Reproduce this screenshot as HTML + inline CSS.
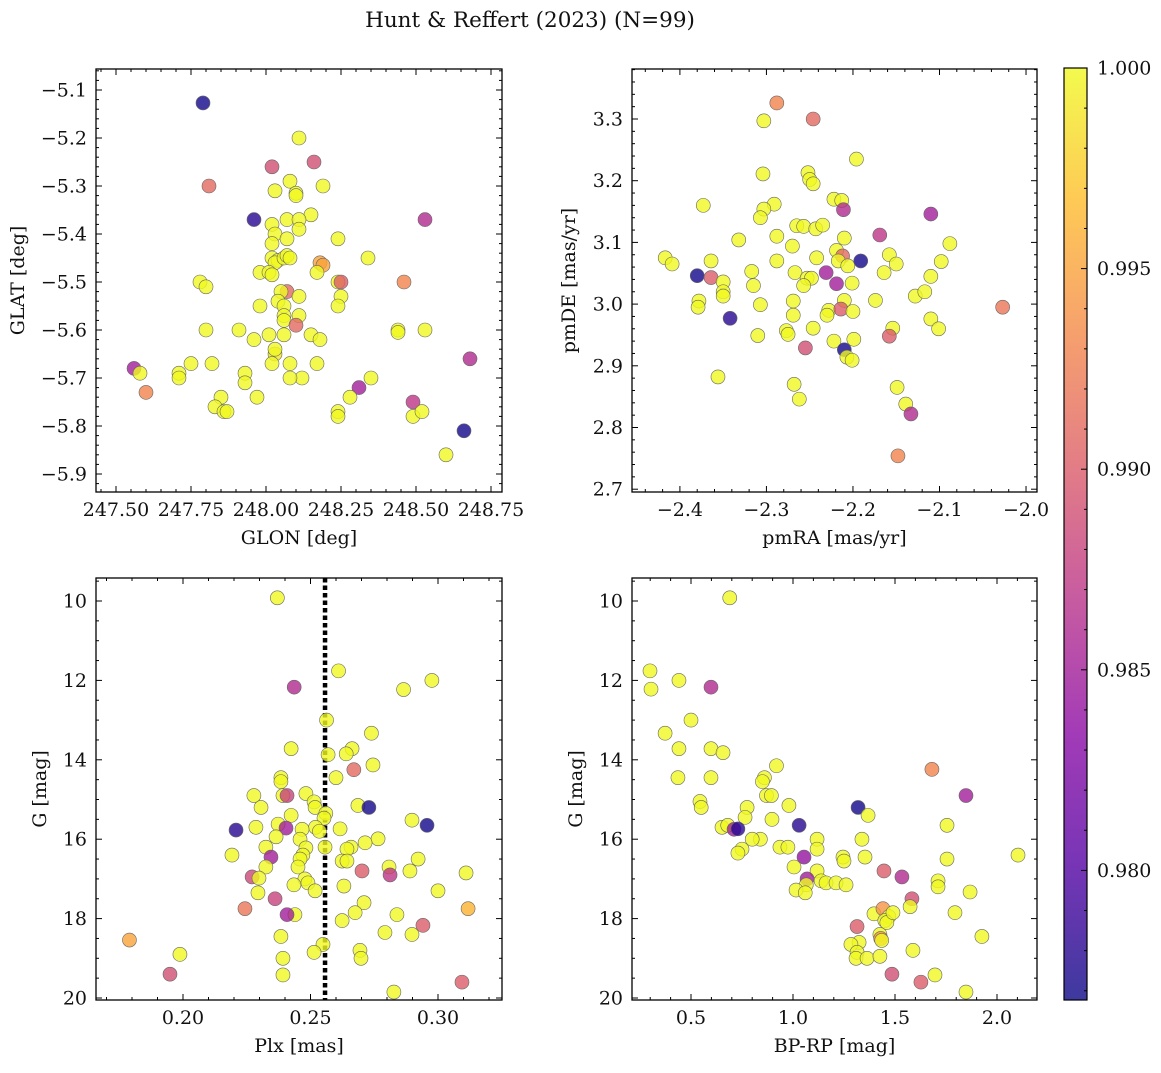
<!DOCTYPE html>
<html><head><meta charset="utf-8">
<style>
body{margin:0;background:#fff;}
svg text{font-family:"DejaVu Serif","Liberation Serif",serif;fill:#111;}
</style></head>
<body>
<svg id="fig" width="1161" height="1068" viewBox="0 0 1161 1068" xmlns="http://www.w3.org/2000/svg">
<text x="530" y="27" font-size="21.5" text-anchor="middle">Hunt &amp; Reffert (2023) (N=99)</text>
</svg>
<script>
// Panel 1: GLON / GLAT / prob
const p1Lon=[247.79,247.81,248.02,248.16,248.11,247.96,248.08,248.03,248.10,248.10,248.19,248.15,248.07,248.11,248.11,248.02,248.03,248.02,248.07,248.24,248.53,248.02,248.04,248.03,248.06,248.07,248.08,247.98,248.01,248.02,248.18,248.19,248.17,248.34,248.24,248.25,248.46,247.78,247.80,248.07,248.05,248.04,248.11,248.06,248.25,247.98,248.24,248.11,248.06,248.06,248.06,247.80,247.91,248.10,247.96,248.01,248.15,248.18,248.44,248.44,248.53,248.03,248.03,248.02,248.08,248.17,247.82,247.75,248.68,247.56,247.58,247.71,247.71,247.93,247.93,248.12,248.08,248.35,248.31,247.60,247.85,247.83,247.86,247.87,247.97,248.28,248.24,248.24,248.49,248.49,248.52,248.66,248.60];
const p1Lat=[-5.127,-5.30,-5.26,-5.25,-5.20,-5.37,-5.29,-5.31,-5.315,-5.32,-5.30,-5.36,-5.37,-5.37,-5.39,-5.38,-5.40,-5.42,-5.41,-5.41,-5.37,-5.45,-5.455,-5.46,-5.45,-5.445,-5.45,-5.48,-5.48,-5.485,-5.46,-5.465,-5.48,-5.45,-5.50,-5.50,-5.50,-5.50,-5.51,-5.52,-5.52,-5.54,-5.53,-5.55,-5.53,-5.55,-5.55,-5.57,-5.57,-5.58,-5.61,-5.60,-5.60,-5.59,-5.62,-5.61,-5.61,-5.62,-5.60,-5.605,-5.60,-5.65,-5.64,-5.67,-5.67,-5.67,-5.67,-5.67,-5.66,-5.68,-5.69,-5.69,-5.70,-5.69,-5.71,-5.70,-5.70,-5.70,-5.72,-5.73,-5.74,-5.76,-5.77,-5.77,-5.74,-5.74,-5.77,-5.78,-5.75,-5.78,-5.77,-5.81,-5.86];
const p1Prob=[0.977,0.991,0.989,0.989,1,0.978,1,1,1,1,1,1,1,1,1,1,1,1,1,1,0.986,1,1,1,1,1,1,1,1,1,0.995,0.995,1,1,1,0.99,0.993,1,1,0.991,1,1,1,1,1,1,1,1,1,1,1,1,1,0.991,1,1,1,1,1,1,1,0.999,1,1,1,1,1,1,0.986,0.985,1,1,1,1,1,1,1,1,0.985,0.993,1,1,1,1,1,1,1,1,0.987,1,1,0.977,1];
// Panel 2: pmRA / pmDE
const p2RA=[-2.288,-2.246,-2.303,-2.196,-2.304,-2.252,-2.250,-2.246,-2.373,-2.291,-2.303,-2.307,-2.222,-2.213,-2.211,-2.169,-2.110,-2.332,-2.288,-2.265,-2.257,-2.243,-2.235,-2.270,-2.210,-2.417,-2.409,-2.364,-2.288,-2.242,-2.219,-2.212,-2.217,-2.206,-2.191,-2.158,-2.150,-2.231,-2.380,-2.364,-2.317,-2.267,-2.253,-2.248,-2.164,-2.110,-2.098,-2.088,-2.219,-2.257,-2.201,-2.350,-2.315,-2.350,-2.350,-2.128,-2.117,-2.269,-2.210,-2.174,-2.378,-2.379,-2.307,-2.027,-2.342,-2.269,-2.228,-2.230,-2.214,-2.200,-2.110,-2.101,-2.154,-2.277,-2.275,-2.246,-2.310,-2.222,-2.199,-2.158,-2.255,-2.210,-2.207,-2.201,-2.356,-2.149,-2.268,-2.262,-2.139,-2.133,-2.148];
const p2DE=[3.326,3.300,3.297,3.235,3.211,3.213,3.202,3.195,3.160,3.162,3.154,3.140,3.170,3.168,3.153,3.112,3.146,3.104,3.110,3.127,3.126,3.122,3.128,3.094,3.107,3.075,3.065,3.070,3.070,3.075,3.087,3.078,3.070,3.062,3.070,3.080,3.065,3.051,3.046,3.043,3.053,3.051,3.042,3.042,3.051,3.045,3.069,3.098,3.033,3.030,3.034,3.036,3.030,3.020,3.013,3.013,3.020,3.005,3.006,3.006,3.005,2.995,2.999,2.995,2.977,2.982,2.990,2.982,2.992,2.988,2.976,2.960,2.961,2.957,2.951,2.961,2.949,2.940,2.943,2.948,2.929,2.926,2.914,2.909,2.882,2.865,2.870,2.846,2.838,2.822,2.754];
const p2Prob=[0.993,0.991,1,1,1,1,1,1,1,1,1,1,1,1,0.986,0.987,0.985,1,1,1,1,1,1,1,1,1,1,1,1,1,1,0.991,1,1,0.977,1,1,0.985,0.977,0.99,1,1,1,1,1,1,1,1,0.985,1,1,1,1,1,1,1,1,1,1,1,1,1,1,0.992,0.978,1,1,1,0.99,1,1,1,1,1,1,1,1,1,1,0.99,0.989,0.977,1,1,1,1,1,1,1,0.986,0.993];
// Panel 3 / 4: Plx, BP-RP, G
const p3Plx=[0.237,0.261,0.2436,0.2976,0.2865,0.2563,0.2739,0.2424,0.2663,0.264,0.2569,0.2745,0.2384,0.2384,0.26,0.267,0.2392,0.2482,0.2278,0.2408,0.2306,0.2514,0.2518,0.2686,0.2729,0.2424,0.256,0.2553,0.2898,0.2286,0.2373,0.2404,0.2208,0.252,0.2535,0.2616,0.2467,0.2459,0.2957,0.2365,0.2765,0.2714,0.2659,0.2325,0.2482,0.247,0.2557,0.2643,0.2922,0.2192,0.2345,0.2459,0.2624,0.2643,0.2451,0.2325,0.2808,0.289,0.2702,0.2812,0.2271,0.2298,0.2478,0.249,0.2435,0.2631,0.2294,0.2518,0.300,0.2361,0.271,0.2243,0.3118,0.2675,0.2439,0.2408,0.2839,0.2624,0.2792,0.2384,0.2898,0.2941,0.2549,0.2694,0.2514,0.2698,0.2392,0.179,0.1988,0.1949,0.2392,0.2827,0.3094,0.311];
const p3G=[9.92,11.76,12.17,12.0,12.23,13.0,13.33,13.72,13.72,13.85,13.87,14.13,14.45,14.55,14.45,14.25,14.9,14.85,14.9,14.9,15.2,15.06,15.2,15.15,15.2,15.4,15.35,15.47,15.52,15.7,15.62,15.72,15.77,15.7,15.8,15.74,15.75,16.0,15.65,15.94,15.99,16.09,16.2,16.2,16.22,16.4,16.2,16.25,16.5,16.4,16.45,16.5,16.55,16.55,16.7,16.7,16.7,16.8,16.8,16.9,16.95,16.98,17.0,17.1,17.15,17.18,17.35,17.3,17.3,17.5,17.6,17.75,17.75,17.85,17.9,17.9,17.9,18.05,18.35,18.45,18.4,18.17,18.65,18.8,18.85,19.0,19.0,18.54,18.9,19.4,19.42,19.85,19.6,16.85];
const p3Prob=[1,1,0.986,1,1,1,1,1,1,1,1,1,1,1,1,0.991,1,1,1,0.988,1,1,1,1,0.977,1,1,1,1,1,1,0.985,0.978,1,1,1,1,1,0.977,1,1,1,1,1,1,1,1,1,1,1,0.985,1,1,1,1,1,1,1,0.99,0.987,0.9885,1,1,1,1,1,1,1,1,0.988,1,0.992,0.996,1,1,0.985,1,1,1,1,1,0.99,1,1,1,1,1,0.995,1,0.989,1,1,0.99,1];
const p4Col=[0.690,0.299,0.304,0.441,0.598,0.5,0.373,0.441,0.598,0.657,0.436,0.598,0.919,0.86,0.85,1.681,1.848,0.544,0.55,0.87,0.894,0.98,0.775,1.319,0.765,1.368,0.897,0.652,0.68,0.711,0.73,1.03,1.755,0.84,0.80,0.75,0.73,1.054,1.118,1.118,0.936,0.975,1.338,1.245,1.25,1.353,2.103,1.755,1.005,1.118,1.069,1.065,1.138,1.162,1.446,1.534,1.711,1.711,1.211,1.26,1.015,1.06,1.868,1.583,1.574,1.794,1.397,1.441,1.47,1.45,1.46,1.49,1.314,1.426,1.43,1.435,1.324,1.284,1.926,1.588,1.314,1.309,1.363,1.426,1.485,1.696,1.627,1.848];
const p4G=[9.92,11.76,12.22,12.0,12.17,13.0,13.33,13.72,13.72,13.82,14.45,14.45,14.15,14.45,14.55,14.24,14.9,15.05,15.2,14.9,14.9,15.15,15.2,15.2,15.45,15.4,15.5,15.7,15.65,15.75,15.74,15.65,15.65,16.0,16.0,16.25,16.35,16.45,16.0,16.25,16.2,16.2,16.0,16.45,16.55,16.45,16.4,16.5,16.7,16.8,17.0,17.15,17.05,17.1,16.8,16.95,17.05,17.2,17.1,17.15,17.28,17.35,17.33,17.5,17.7,17.85,17.88,17.75,17.95,18.05,18.1,17.85,18.2,18.4,18.5,18.55,18.6,18.65,18.45,18.8,18.85,19.0,19.0,18.95,19.4,19.42,19.6,19.85];
const p4Prob=[1,1,1,1,0.986,1,1,1,1,1,1,1,1,1,1,0.993,0.985,1,1,1,1,1,1,0.977,1,1,1,1,1,0.985,0.978,0.978,1,1,1,1,1,0.984,1,1,1,1,1,1,1,1,1,1,1,1,0.985,1,1,1,0.99,0.986,1,1,1,1,1,1,1,0.989,1,1,1,0.994,1,1,1,1,0.99,1,0.994,1,1,1,1,1,1,1,1,1,0.989,1,0.99,1];
const vLineX=[0.2557];
const cbTicks=[0.980,0.985,0.990,0.995,1.000];

const VMIN=0.97677,VMAX=1.0;
const plasma=[[13,8,135],[84,2,163],[139,10,165],[185,50,137],[219,92,104],[244,136,73],[254,188,43],[240,249,33]];
function cmap(v){let t=Math.max(0,Math.min(1,(v-VMIN)/(VMAX-VMIN)))*(plasma.length-1);let i=Math.min(Math.floor(t),plasma.length-2),f=t-i;const a=plasma[i],b=plasma[i+1];return `rgb(${a.map((c,k)=>Math.round(c+(b[k]-c)*f)).join(',')})`;}
const NS='http://www.w3.org/2000/svg';
const svg=document.getElementById('fig');
function mk(tag,attrs,parent){const e=document.createElementNS(NS,tag);for(const k in attrs)e.setAttribute(k,attrs[k]);(parent||svg).appendChild(e);return e;}

function panel(o){
  const g=mk('g',{});
  
  
  const sx=v=>o.x0+(v-o.xr[0])/(o.xr[1]-o.xr[0])*(o.x1-o.x0);
  const sy=v=>o.y1-(v-o.yr[0])/(o.yr[1]-o.yr[0])*(o.y1-o.y0);
  if(o.vline){const l=mk('line',{x1:sx(o.vline[0]),x2:sx(o.vline[0]),y1:o.y0,y2:o.y1,stroke:'#000','stroke-width':4.5,'stroke-dasharray':'4.5 3'},g);
    }
  for(let i=0;i<o.xs.length;i++){
    const c=mk('circle',{cx:sx(o.xs[i]),cy:sy(o.ys[i]),r:7,fill:cmap(o.cs[i]),'fill-opacity':0.8,stroke:'#666','stroke-width':0.6},g);
    
    
  }
  const fr=mk('rect',{x:o.x0,y:o.y0,width:o.x1-o.x0,height:o.y1-o.y0,fill:'none',stroke:'#000','stroke-width':1.3},g);
  
  const ticks=(arr,dec,axis,minorN)=>{
    const step=arr[1]-arr[0];
    const lo=axis==='x'?o.xr:o.yr;
    const mn=Math.min(lo[0],lo[1]),mx=Math.max(lo[0],lo[1]);
    for(let k=Math.ceil((mn-arr[0])/(step/minorN));arr[0]+k*step/minorN<=mx+1e-9;k++){
      const v=arr[0]+k*step/minorN;const major=k%minorN===0;const L=major?6:3;
      if(axis==='x'){const X=sx(v);mk('line',{x1:X,x2:X,y1:o.y1,y2:o.y1-L,stroke:'#000','stroke-width':1},g);mk('line',{x1:X,x2:X,y1:o.y0,y2:o.y0+L,stroke:'#000','stroke-width':1},g);}
      else{const Y=sy(v);mk('line',{y1:Y,y2:Y,x1:o.x0,x2:o.x0+L,stroke:'#000','stroke-width':1},g);mk('line',{y1:Y,y2:Y,x1:o.x1,x2:o.x1-L,stroke:'#000','stroke-width':1},g);}
    }
    arr.forEach(v=>{
      const s=v.toFixed(dec).replace('-','\u2212');
      const t=axis==='x'?mk('text',{x:sx(v),y:o.y1+24,'font-size':19,'text-anchor':'middle'},g):mk('text',{x:o.x0-9,y:sy(v)+6.5,'font-size':19,'text-anchor':'end'},g);
      t.textContent=s;
      
    });
  };
  ticks(o.xt,o.xd,'x',o.xm||5);ticks(o.yt,o.yd,'y',o.ym||5);
  const xl=mk('text',{x:(o.x0+o.x1)/2,y:o.y1+52,'font-size':19,'text-anchor':'middle'},g);xl.textContent=o.xlab;
  
  const yx=o.x0-(o.ylabOff||70),yy=(o.y0+o.y1)/2;
  const yl=mk('text',{x:yx,y:yy,'font-size':19,'text-anchor':'middle',transform:`rotate(-90 ${yx} ${yy})`},g);yl.textContent=o.ylab;
  
}
panel({name:'glon-glat-panel',x0:96,x1:502,y0:69,y1:492,xr:[247.5-20/300,247.5+386/300],yr:[-5.1-402/480,-5.1+21/480],
  xs:p1Lon,ys:p1Lat,cs:p1Prob,xt:[247.5,247.75,248,248.25,248.5,248.75],xd:2,yt:[-5.9,-5.8,-5.7,-5.6,-5.5,-5.4,-5.3,-5.2,-5.1],yd:1,ym:5,xlab:'GLON [deg]',ylab:'GLAT [deg]',ylabOff:72});
panel({name:'proper-motion-panel',x0:632,x1:1037,y0:69,y1:492,xr:[-2.4-48/867,-2.0+11/867],yr:[3.3-373/617,3.3+50/617],
  xs:p2RA,ys:p2DE,cs:p2Prob,xt:[-2.4,-2.3,-2.2,-2.1,-2.0],xd:1,yt:[2.7,2.8,2.9,3.0,3.1,3.2,3.3],yd:1,xlab:'pmRA [mas/yr]',ylab:'pmDE [mas/yr]',ylabOff:57});
panel({name:'plx-g-panel',x0:96,x1:502,y0:578,y1:1000,xr:[0.2-87/2550,0.2+319/2550],yr:[10+399/39.7,10-23/39.7],
  xs:p3Plx,ys:p3G,cs:p3Prob,xt:[0.2,0.25,0.3],xd:2,yt:[10,12,14,16,18,20],yd:0,ym:4,xlab:'Plx [mas]',ylab:'G [mag]',ylabOff:50,vline:vLineX});
panel({name:'color-magnitude-panel',x0:632,x1:1037,y0:578,y1:1000,xr:[43/204,448/204],yr:[10+399/39.7,10-23/39.7],
  xs:p4Col,ys:p4G,cs:p4Prob,xt:[0.5,1.0,1.5,2.0],xd:1,yt:[10,12,14,16,18,20],yd:0,ym:4,xlab:'BP-RP [mag]',ylab:'G [mag]',ylabOff:50});

(function(){
  const g=mk('g',{});
  
  const x0=1064,x1=1087,y0=68,y1=1000;
  const defs=mk('defs',{},g);const lg=mk('linearGradient',{id:'cbg',x1:0,y1:1,x2:0,y2:0},defs);
  plasma.forEach((c,i)=>mk('stop',{offset:i/(plasma.length-1),'stop-color':`rgb(${c.join(',')})`,'stop-opacity':0.8},lg));
  mk('rect',{x:x0,y:y0,width:x1-x0,height:y1-y0,fill:'url(#cbg)',stroke:'#000','stroke-width':1.2},g);
  const sy=v=>y1-(v-VMIN)/(VMAX-VMIN)*(y1-y0);
  for(let v=0.977;v<=1.00001;v+=0.001){const Y=sy(v);const maj=Math.abs(Math.round(v*200)-v*200)<1e-6;if(Y<y0-0.5)continue;
    mk('line',{x1:x1,x2:x1-(maj?6:3),y1:Y,y2:Y,stroke:'#000','stroke-width':1},g);}
  cbTicks.forEach(v=>{const t=mk('text',{x:x1+10,y:sy(v)+6.5,'font-size':19},g);t.textContent=v.toFixed(3);
    });
})();
</script>
</body></html>
